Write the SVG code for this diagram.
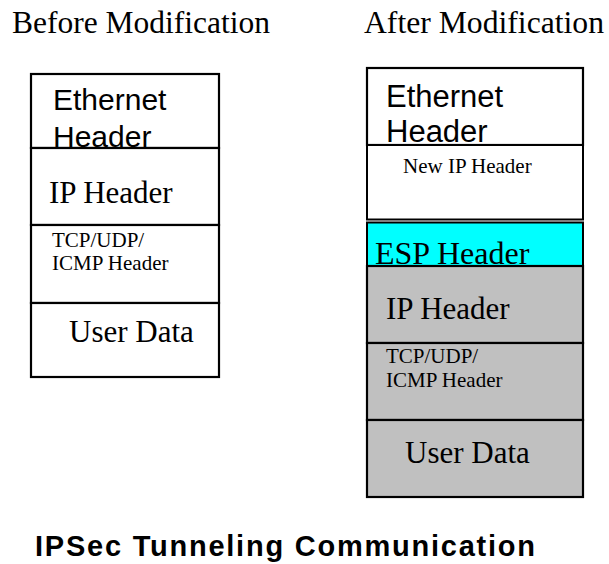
<svg xmlns="http://www.w3.org/2000/svg" width="609" height="564" viewBox="0 0 609 564">
<style>
.box{stroke:#000;stroke-width:2.2}
.w{fill:#fff}
.g{fill:#c0c0c0}
.c{fill:#00ffff}
.ser{font-family:"Liberation Serif","Times New Roman",serif;fill:#000}
.san{font-family:"Liberation Sans",Arial,sans-serif;fill:#000}
.big{font-size:31px}
.sm{font-size:21px}
</style>
<rect width="609" height="564" fill="#fff"/>
<text class="ser big" x="12" y="33" textLength="258" lengthAdjust="spacingAndGlyphs">Before Modification</text>
<text class="ser big" x="364" y="33" textLength="240" lengthAdjust="spacingAndGlyphs">After Modification</text>
<g id="before">
<g id="b-eth"><rect class="box w" x="31" y="74" width="188" height="74"/><text class="san" font-size="30" x="53" y="110">Ethernet</text><text class="san" font-size="30" x="53" y="147">Header</text></g>
<g id="b-ip"><rect class="box w" x="31" y="148" width="188" height="77"/><text class="ser big" x="49" y="203">IP Header</text></g>
<g id="b-tcp"><rect class="box w" x="31" y="225" width="188" height="78"/><text class="ser sm" x="52" y="247">TCP/UDP/</text><text class="ser sm" x="52" y="270">ICMP Header</text></g>
<g id="b-data"><rect class="box w" x="31" y="303" width="188" height="74"/><text class="ser big" x="69" y="342">User Data</text></g>
</g>
<g id="after">
<g id="a-eth"><rect class="box w" x="367" y="68" width="216" height="77"/><text class="san" font-size="31" x="386" y="107">Ethernet</text><text class="san" font-size="31" x="386" y="142">Header</text></g>
<g id="a-newip"><rect class="box w" x="367" y="145" width="216" height="74.5" style="stroke-width:2"/><text class="ser sm" x="403" y="173">New IP Header</text></g>
<g id="a-esp"><rect class="box c" x="367" y="222.5" width="216" height="43.5" style="stroke-width:2"/><text class="ser" font-size="32" x="375" y="264">ESP Header</text></g>
<g id="a-ip"><rect class="box g" x="367" y="266" width="216" height="77"/><text class="ser big" x="386" y="319">IP Header</text></g>
<g id="a-tcp"><rect class="box g" x="367" y="343" width="216" height="77"/><text class="ser sm" x="386" y="363">TCP/UDP/</text><text class="ser sm" x="386" y="387">ICMP Header</text></g>
<g id="a-data"><rect class="box g" x="367" y="420" width="216" height="77"/><text class="ser big" x="405" y="463">User Data</text></g>
</g>
<g id="connectors"></g>
<text class="san" font-size="29" font-weight="bold" x="35" y="556" textLength="500" lengthAdjust="spacing">IPSec Tunneling Communication</text>
</svg>
